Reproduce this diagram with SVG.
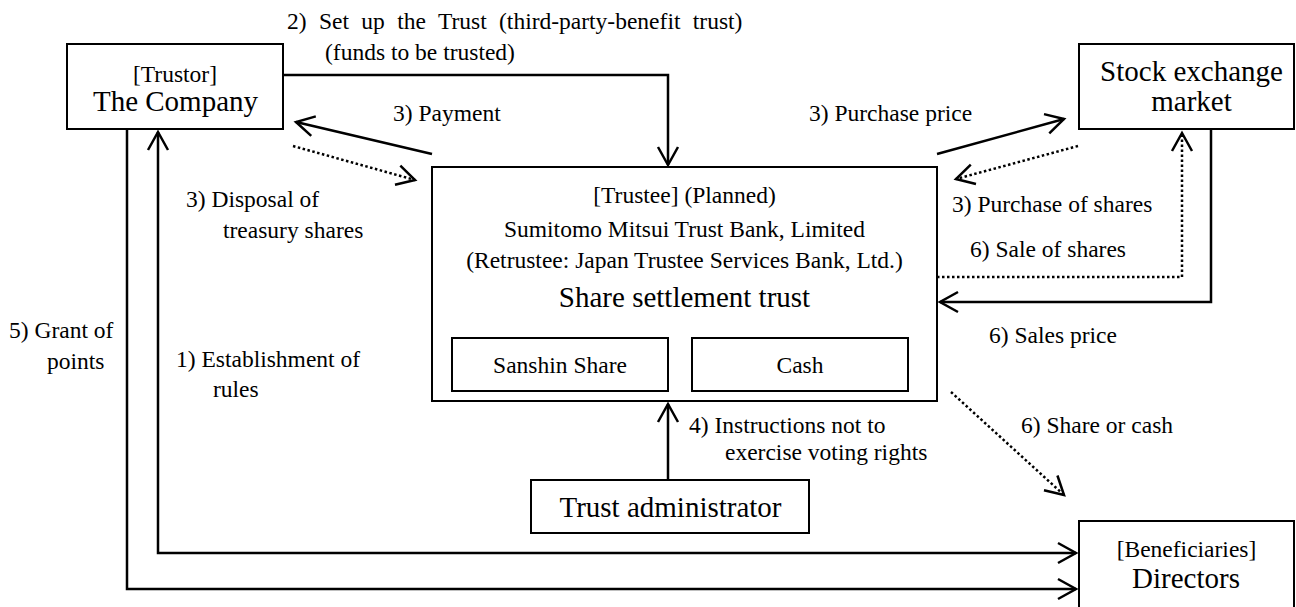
<svg xmlns="http://www.w3.org/2000/svg" width="1296" height="607" viewBox="0 0 1296 607" font-family="Liberation Serif, Tinos, DejaVu Serif, serif">
<style>
text{font-family:'Liberation Serif','Tinos','DejaVu Serif',serif;fill:#000}
.s{font-size:23.5px}
.l{font-size:29px}
.m{text-anchor:middle}
.box{fill:#fff;stroke:#000;stroke-width:2}
.c{fill:none;stroke:#000;stroke-width:2.5}
.d{fill:none;stroke:#000;stroke-width:2.5;stroke-dasharray:2.5 2.5}
</style>
<defs>
<marker id="a" viewBox="0 0 24 24" refX="21" refY="12" markerWidth="24" markerHeight="24" markerUnits="userSpaceOnUse" orient="auto-start-reverse">
<path d="M3,2 L21,12 L3,22" fill="none" stroke="#000" stroke-width="2.5"/>
</marker>
</defs>
<rect width="1296" height="607" fill="#fff"/>
<g id="connectors">
<polyline class="c" points="283,75 668,75 668,165" marker-end="url(#a)"/>
<line class="c" x1="432" y1="154" x2="296" y2="122" marker-end="url(#a)"/>
<line class="d" x1="293" y1="146" x2="415" y2="180" marker-end="url(#a)"/>
<line class="c" x1="937" y1="154" x2="1064" y2="119" marker-end="url(#a)"/>
<line class="d" x1="1078" y1="146" x2="956" y2="179" marker-end="url(#a)"/>
<polyline class="d" points="937,277 1182,277 1182,133" marker-end="url(#a)"/>
<polyline class="c" points="1211,129 1211,302 940,302" marker-end="url(#a)"/>
<line class="d" x1="951" y1="392" x2="1064" y2="495" marker-end="url(#a)"/>
<line class="c" x1="668" y1="480" x2="668" y2="404" marker-end="url(#a)"/>
<polyline class="c" points="158,132 158,553 1076,553" marker-start="url(#a)" marker-end="url(#a)"/>
<polyline class="c" points="127,129 127,589 1076,589" marker-end="url(#a)"/>
<text class="s" x="287" y="29" style="word-spacing:6.5px">2) Set up the Trust (third-party-benefit trust)</text>
<text class="s" x="325" y="60">(funds to be trusted)</text>
<text class="s" x="393" y="121">3) Payment</text>
<text class="s" x="809" y="121">3) Purchase price</text>
<text class="s" x="186" y="207">3) Disposal of</text>
<text class="s" x="223" y="238">treasury shares</text>
<text class="s" x="952" y="212">3) Purchase of shares</text>
<text class="s" x="970" y="257">6) Sale of shares</text>
<text class="s" x="989" y="343">6) Sales price</text>
<text class="s" x="9" y="338">5) Grant of</text>
<text class="s" x="47" y="369">points</text>
<text class="s" x="176" y="367">1) Establishment of</text>
<text class="s" x="213" y="397">rules</text>
<text class="s" x="689" y="433">4) Instructions not to</text>
<text class="s" x="725" y="460">exercise voting rights</text>
<text class="s" x="1021" y="433">6) Share or cash</text>
</g>
<g id="company">
<rect class="box" x="67" y="44" width="216" height="85"/>
<text class="s m" x="175" y="82">[Trustor]</text>
<text class="l m" x="175.5" y="111">The Company</text>
</g>
<g id="stock-exchange">
<rect class="box" x="1079" y="44" width="215" height="85"/>
<text class="l m" x="1191.5" y="81">Stock exchange</text>
<text class="l m" x="1191.5" y="111">market</text>
</g>
<g id="trustee">
<rect class="box" x="432" y="167" width="505" height="234"/>
<text class="s m" x="684.5" y="203">[Trustee] (Planned)</text>
<text class="s m" x="684.5" y="237">Sumitomo Mitsui Trust Bank, Limited</text>
<text class="s m" x="684.5" y="268">(Retrustee: Japan Trustee Services Bank, Ltd.)</text>
<text class="l m" x="684.5" y="307">Share settlement trust</text>
</g>
<g id="sanshin-share">
<rect class="box" x="452" y="338" width="216" height="53"/>
<text class="s m" x="560" y="373">Sanshin Share</text>
</g>
<g id="cash">
<rect class="box" x="692" y="338" width="216" height="53"/>
<text class="s m" x="800" y="373">Cash</text>
</g>
<g id="trust-administrator">
<rect class="box" x="531" y="480" width="278" height="53"/>
<text class="l m" x="670.5" y="517">Trust administrator</text>
</g>
<g id="directors">
<rect class="box" x="1079" y="521" width="215" height="95"/>
<text class="s m" x="1186.5" y="557">[Beneficiaries]</text>
<text class="l m" x="1186" y="588">Directors</text>
</g>
</svg>
